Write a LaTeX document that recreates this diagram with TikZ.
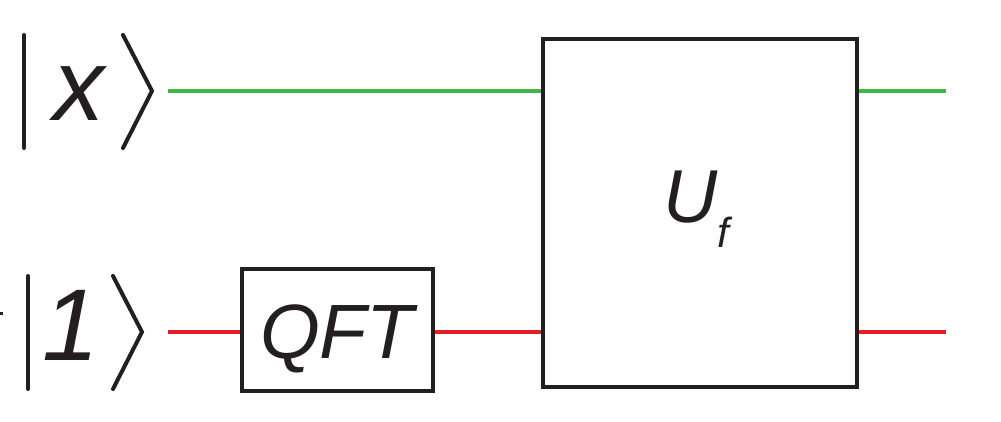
\documentclass[tikz,border=0pt]{standalone}
\usepackage{fontspec}
\setmainfont{Liberation Sans}
\definecolor{wiregreen}{RGB}{62,185,72}
\definecolor{wirered}{RGB}{227,30,36}
\definecolor{ink}{RGB}{35,31,32}
\begin{document}
\begin{tikzpicture}[x=1pt,y=-1pt,
  gate/.style={draw=ink,line width=4pt,fill=white,inner sep=0pt},
  wireg/.style={draw=wiregreen,line width=4pt},
  wirer/.style={draw=wirered,line width=4pt},
  ketline/.style={draw=ink,line width=4pt,line cap=round,line join=miter},
  lbl/.style={inner sep=0pt,text=ink}]
\useasboundingbox (0,0) rectangle (1001,421);
% wires
\coordinate (gin) at (168,91);
\coordinate (gout) at (946,91);
\coordinate (rin) at (168,332);
\coordinate (rout) at (946,332);
\node[gate,minimum width=191pt,minimum height=122pt] (qft) at (337.5,330) {};
\node[gate,minimum width=314pt,minimum height=348pt] (uf) at (700,213) {};
\draw[wireg] (gin) -- (uf.west |- gin);
\draw[wireg] (uf.east |- gout) -- (gout);
\draw[wirer] (rin) -- (qft.west |- rin);
\draw[wirer] (qft.east |- rin) -- (uf.west |- rin);
\draw[wirer] (uf.east |- rout) -- (rout);
% labels
\node[lbl,anchor=base] (qftlbl) at (337,358) {\fontsize{77}{77}\selectfont\itshape QFT};
\node[lbl,anchor=base west] (ulbl) at (663,222) {\fontsize{75}{75}\selectfont\itshape U};
\node[lbl,anchor=base west] (flbl) at (717,247) {\fontsize{42}{42}\selectfont\itshape f};
% kets
\draw[ketline] (24,35) -- (24,148);
\draw[ketline] (123,35) -- (152,91) -- (123,148);
\node[lbl,anchor=base] (xlbl) at (79,120) {\fontsize{102}{102}\selectfont\itshape x};
\draw[ketline] (28,276) -- (28,389);
\draw[ketline] (113,276) -- (142,332) -- (113,389);
\node[lbl,anchor=base] (onelbl) at (71,360) {\fontsize{102}{102}\selectfont\itshape 1};
\fill[ink] (0,312) rectangle (2.5,315);
\end{tikzpicture}
\end{document}
